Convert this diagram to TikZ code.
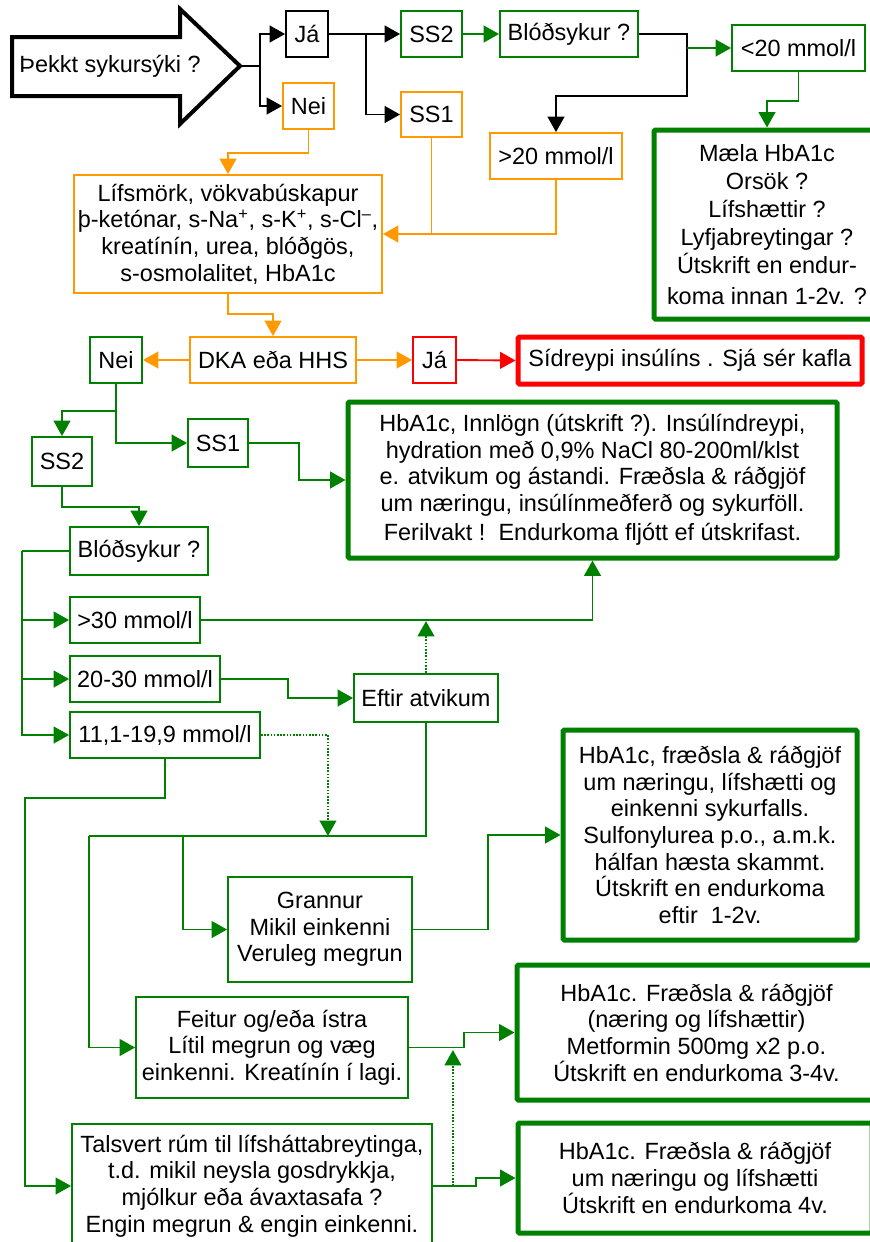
\documentclass[tikz,border=0pt]{standalone}
\usepackage{fontspec}
\setmainfont{Liberation Sans}
\usetikzlibrary{arrows.meta}
\definecolor{gr}{RGB}{0,128,0}
\definecolor{orq}{RGB}{255,153,0}
\definecolor{rd}{RGB}{255,0,0}
\newcommand\mybox[7]{%
 \pgfmathsetmacro\bxw{(#4-#2)*0.75}\pgfmathsetmacro\bxh{(#5-#3)*0.75}%
 \pgfmathsetmacro\bxx{(#2+#4)/2}\pgfmathsetmacro\bxy{(#3+#5)/2}%
 \node[#6,minimum width=\bxw pt,minimum height=\bxh pt] (#1) at (\bxx,\bxy) {#7};}
\begin{document}
\begin{tikzpicture}[x=0.75pt,y=-0.75pt,
 every node/.style={font=\fontsize{17.6}{20}\selectfont, align=center, inner sep=0pt},
 bk/.style={draw=black, line width=1.4pt, rectangle},
 gb/.style={draw=gr, line width=1.4pt, rectangle},
 ob/.style={draw=orq, line width=1.4pt, rectangle},
 rb/.style={draw=rd, line width=1.4pt, rectangle},
 gthick/.style={draw=gr, line width=3.75pt, rectangle, rounded corners=1pt},
 rthick/.style={draw=rd, line width=3.75pt, rectangle, rounded corners=1pt},
 ahead/.style={-{Triangle[length=11.5pt,width=12.5pt]}},
 karr/.style={ahead, black, line width=1.4pt},
 garr/.style={ahead, gr, line width=1.4pt},
 gln/.style={gr, line width=1.4pt},
 oarr/.style={ahead, orq, line width=1.4pt},
 rarr/.style={ahead, rd, line width=1.4pt},
 gdot/.style={ahead, gr, line width=1.4pt, dash pattern=on 1.2pt off 1.2pt},
]
\useasboundingbox (0,0) rectangle (870,1242);
\clip (0,0) rectangle (870,1242);
\fill[white] (0,0) rectangle (870,1242);

% big arrow
\coordinate (tipA) at (240,66);
\draw[black, line width=3pt, line join=miter] (12,37) -- (180,37) -- (180,9) -- (tipA) -- (180,124) -- (180,96) -- (12,96) -- cycle;
\node (q) at (110,66) {Þekkt sykursýki ?};

% boxes
\mybox{ja}{286}{11}{328}{57}{bk}{Já}
\mybox{nei1}{283}{83}{334}{129}{ob}{Nei}
\mybox{ss2a}{401}{11}{462}{57}{gb}{SS2}
\mybox{ss1a}{401}{92}{462}{137}{ob}{SS1}
\mybox{bl1}{500}{11}{638}{57}{gb}{Blóðsykur ?}
\mybox{lt20}{732}{25}{865}{71}{gb}{<20 mmol/l}
\mybox{gt20}{490}{133}{622}{179}{ob}{>20 mmol/l}
\mybox{mala}{654}{130}{880}{319}{gthick,font=\fontsize{17.6}{21}\selectfont}{Mæla HbA1c\\ Orsök ?\\ Lífshættir ?\\ Lyfjabreytingar ?\\ Útskrift en endur-\\[2pt] koma innan 1-2v. ?}
\mybox{lif}{74}{175}{382}{293}{ob}{Lífsmörk, vökvabúskapur\\ þ-ketónar, s-Na\textsuperscript{+}, s-K\textsuperscript{+}, s-Cl\textsuperscript{–},\\ kreatínín, urea, blóðgös,\\ s-osmolalitet, HbA1c}
\mybox{dka}{190}{337}{356}{383}{ob}{DKA eða HHS}
\mybox{nei2}{90}{337}{142}{383}{gb}{Nei}
\mybox{ja2}{413}{337}{456}{383}{rb}{Já}
\mybox{sid}{518}{337}{862}{384}{rthick}{Sídreypi insúlíns . Sjá sér kafla}
\mybox{ss2b}{32}{437}{92}{486}{gb}{SS2}
\mybox{ss1b}{188}{419}{248}{467}{gb}{SS1}
\mybox{big}{348}{402}{837}{558}{gthick}{HbA1c, Innlögn (útskrift ?). Insúlíndreypi,\\ hydration með 0,9\% NaCl 80-200ml/klst\\ e. atvikum og ástandi. Fræðsla \& ráðgjöf\\ um næringu, insúlínmeðferð og sykurföll.\\[2pt] Ferilvakt !\ \ Endurkoma fljótt ef útskrifast.}
\mybox{bl2}{70}{527}{208}{575}{gb}{Blóðsykur ?}
\mybox{gt30}{70}{597}{200}{643}{gb}{>30 mmol/l}
\mybox{r2030}{70}{656}{220}{702}{gb}{20-30 mmol/l}
\mybox{r11}{70}{712}{260}{758}{gb}{11,1-19,9 mmol/l}
\mybox{eft}{354}{674}{498}{722}{gb}{Eftir atvikum}
\mybox{box2}{563}{730}{857}{940}{gthick}{HbA1c, fræðsla \& ráðgjöf\\ um næringu, lífshætti og\\ einkenni sykurfalls.\\ Sulfonylurea p.o., a.m.k.\\ hálfan hæsta skammt.\\ Útskrift en endurkoma\\ eftir\ \ 1-2v.}
\mybox{gran}{228}{877}{412}{982}{gb}{Grannur\\ Mikil einkenni\\ Veruleg megrun}
\mybox{feit}{136}{997}{408}{1098}{gb}{Feitur og/eða ístra\\ Lítil megrun og væg\\ einkenni. Kreatínín í lagi.}
\mybox{tals}{72}{1124}{432}{1248}{gb}{Talsvert rúm til lífsháttabreytinga,\\ t.d. mikil neysla gosdrykkja,\\ mjólkur eða ávaxtasafa ?\\ Engin megrun \& engin einkenni.}
\mybox{box3}{517}{965}{876}{1100}{gthick}{HbA1c. Fræðsla \& ráðgjöf\\ (næring og lífshættir)\\ Metformin 500mg x2 p.o.\\ Útskrift en endurkoma 3-4v.}
\mybox{box4}{518}{1123}{872}{1233}{gthick}{HbA1c. Fræðsla \& ráðgjöf\\ um næringu og lífshætti\\ Útskrift en endurkoma 4v.}

% connectors
\draw[black,line width=1.4pt] (tipA) -- ++(20,0) coordinate (j1);
\draw[karr] (j1) |- (ja.west);
\draw[karr] (j1) |- (nei1.west);
\draw[karr] (ja.east) -- (ss2a.west);
\draw[karr] (ja.east) -- ++(37,0) |- (ss1a.west);
\draw[garr] (ss2a.east) -- (bl1.west);
\draw[karr] (bl1.east) -- ++(48,0) coordinate (b1) -- ++(0,62) -| (gt20.north);
\path (b1) ++(0,14) coordinate (b2);
\draw[garr] (b2) -- (b2 -| lt20.west);
\draw[garr] (lt20.south) -- ++(0,29) -| (mala.north);
\draw[oarr] (nei1.south) -- ++(0,23) -| (lif.north);
\draw[orq, line width=1.4pt] (gt20.south) |- (ss1a.south |- lif.east);
\draw[oarr] (ss1a.south) |- (lif.east);
\draw[oarr] (lif.south) -- ++(0,20) -| (dka.north);
\draw[oarr] (dka.west) -- (nei2.east);
\draw[oarr] (dka.east) -- (ja2.west);
\draw[rarr] (ja2.east) -- (sid.west);
\draw[garr] (nei2.south) -- ++(0,27) -| (ss2b.north);
\draw[garr] (nei2.south) |- (ss1b.west);
\draw[garr] (ss1b.east) -- ++(50,0) |- (big.west);
\draw[garr] (ss2b.south) -- ++(0,20) -| (bl2.north);
\draw[gln] (bl2.west) -- ++(-47,0) coordinate (v1);
\draw[garr] (v1) |- (gt30.west);
\draw[garr] (v1) |- (r2030.west);
\draw[garr] (v1) |- (r11.west);
\draw[garr] (gt30.east) -| (big.south);
\draw[garr] (r2030.east) -- ++(67,0) |- (eft.west);
\draw[gdot] (eft.north) -- ++(0,-52);
\draw[gln] (eft.south) -- ++(0,113) coordinate (h1) -- ++(-337,0) coordinate (h2);
\path (h2) ++(94,0) coordinate (h3);
\draw[garr] (h2) |- (feit.west);
\draw[garr] (h3) |- (gran.west);
\path (r11.east) ++(67,0) coordinate (d0);
\draw[gdot] (r11.east) -- (d0) -- (d0 |- h1);
\draw[garr] (r11.south) -- ++(0,39) -- ++(-140,0) |- (tals.west);
\draw[garr] (gran.east) -- ++(75,0) |- (box2.west);
\draw[garr] (feit.east) -- ++(55,0) |- (box3.west);
\draw[garr] (tals.east) -- ++(43,0) |- (box4.west);
\path (tals.east) ++(20,0) coordinate (d1);
\draw[gdot] (d1) -- ++(0,-136);
\end{tikzpicture}
\end{document}
